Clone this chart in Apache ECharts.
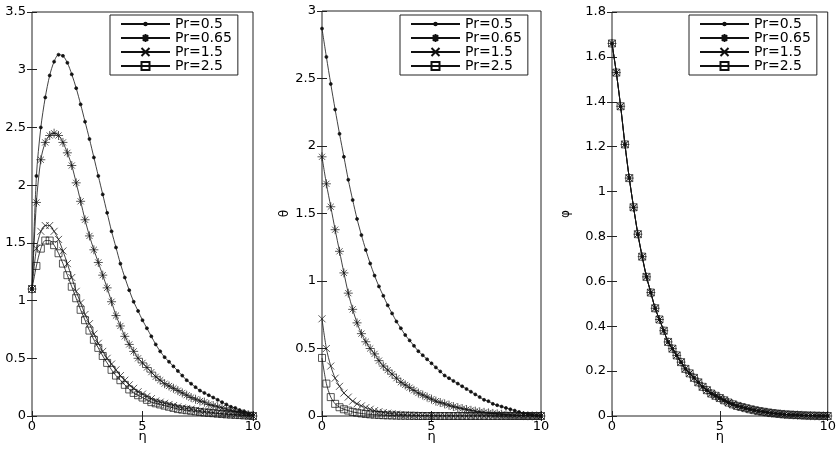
<!DOCTYPE html>
<html>
<head>
<meta charset="utf-8">
<script src="https://cdn.jsdelivr.net/npm/echarts@6/dist/echarts.min.js"></script>
<style>
  html, body { margin: 0; padding: 0; background: #fff; }
  #main { width: 839px; height: 458px; }
</style>
</head>
<body>
<div id="main"></div>
<script>
// eta values (x axis of all three panels)
var eta = [0, 0.2, 0.4, 0.6, 0.8, 1, 1.2, 1.4, 1.6, 1.8, 2, 2.2, 2.4, 2.6, 2.8, 3, 3.2, 3.4, 3.6, 3.8,
  4, 4.2, 4.4, 4.6, 4.8, 5, 5.2, 5.4, 5.6, 5.8, 6, 6.2, 6.4, 6.6, 6.8, 7, 7.2, 7.4, 7.6, 7.8,
  8, 8.2, 8.4, 8.6, 8.8, 9, 9.2, 9.4, 9.6, 9.8, 10];

var names = ['Pr=0.5', 'Pr=0.65', 'Pr=1.5', 'Pr=2.5'];

// left panel
var velPr05 = [1.10, 2.08, 2.50, 2.76, 2.95, 3.07, 3.13, 3.12, 3.06, 2.96, 2.84, 2.70, 2.55, 2.40, 2.24, 2.08, 1.92, 1.76, 1.60, 1.46,
  1.32, 1.20, 1.09, 0.99, 0.91, 0.83, 0.76, 0.69, 0.62, 0.56, 0.51, 0.47, 0.43, 0.39, 0.35, 0.31, 0.28, 0.25, 0.22, 0.20,
  0.18, 0.16, 0.14, 0.12, 0.10, 0.08, 0.07, 0.05, 0.04, 0.02, 0.01];
var velPr065 = [1.10, 1.85, 2.22, 2.37, 2.43, 2.45, 2.43, 2.37, 2.28, 2.17, 2.02, 1.86, 1.70, 1.56, 1.44, 1.33, 1.22, 1.11, 0.99, 0.87,
  0.78, 0.69, 0.62, 0.56, 0.50, 0.46, 0.42, 0.38, 0.34, 0.31, 0.28, 0.26, 0.24, 0.22, 0.20, 0.18, 0.16, 0.145, 0.13, 0.12,
  0.10, 0.09, 0.08, 0.07, 0.06, 0.05, 0.04, 0.03, 0.02, 0.01, 0.00];
var velPr15 = [1.10, 1.45, 1.60, 1.65, 1.65, 1.60, 1.53, 1.43, 1.32, 1.20, 1.08, 0.98, 0.88, 0.80, 0.71, 0.63, 0.56, 0.50, 0.45, 0.40,
  0.35, 0.31, 0.27, 0.24, 0.21, 0.19, 0.17, 0.15, 0.13, 0.12, 0.11, 0.10, 0.09, 0.08, 0.07, 0.065, 0.06, 0.05, 0.045, 0.04,
  0.035, 0.03, 0.025, 0.02, 0.018, 0.015, 0.012, 0.01, 0.007, 0.004, 0.0];
var velPr25 = [1.10, 1.30, 1.45, 1.52, 1.52, 1.48, 1.41, 1.32, 1.22, 1.12, 1.02, 0.92, 0.83, 0.74, 0.66, 0.59, 0.52, 0.46, 0.40, 0.35,
  0.31, 0.27, 0.23, 0.20, 0.18, 0.16, 0.14, 0.12, 0.11, 0.10, 0.09, 0.08, 0.07, 0.06, 0.055, 0.05, 0.045, 0.04, 0.035, 0.03,
  0.027, 0.024, 0.02, 0.017, 0.014, 0.012, 0.01, 0.008, 0.005, 0.003, 0.0];

// middle panel (theta)
var thetaPr05 = [2.87, 2.66, 2.46, 2.27, 2.09, 1.92, 1.75, 1.60, 1.46, 1.34, 1.23, 1.13, 1.04, 0.96, 0.89, 0.82, 0.76, 0.70, 0.65, 0.60,
  0.56, 0.52, 0.48, 0.45, 0.42, 0.39, 0.36, 0.33, 0.30, 0.28, 0.26, 0.24, 0.22, 0.20, 0.18, 0.16, 0.14, 0.12, 0.11, 0.09,
  0.08, 0.07, 0.06, 0.05, 0.04, 0.03, 0.02, 0.015, 0.01, 0.005, 0.0];
var thetaPr065 = [1.92, 1.72, 1.55, 1.38, 1.22, 1.06, 0.91, 0.79, 0.69, 0.61, 0.55, 0.50, 0.46, 0.41, 0.37, 0.34, 0.31, 0.28, 0.25, 0.23,
  0.21, 0.19, 0.17, 0.155, 0.14, 0.125, 0.11, 0.10, 0.09, 0.08, 0.07, 0.062, 0.055, 0.048, 0.042, 0.036, 0.031, 0.027, 0.023, 0.019,
  0.016, 0.013, 0.01, 0.008, 0.006, 0.004, 0.003, 0.002, 0.001, 0.0, 0.0];
var thetaPr15 = [0.72, 0.50, 0.37, 0.28, 0.22, 0.17, 0.14, 0.11, 0.09, 0.075, 0.062, 0.05, 0.04, 0.032, 0.026, 0.021, 0.017, 0.014, 0.011, 0.009,
  0.007, 0.006, 0.005, 0.004, 0.003, 0.002, 0.002, 0.001, 0.001, 0.001, 0, 0, 0, 0, 0, 0, 0, 0, 0, 0,
  0, 0, 0, 0, 0, 0, 0, 0, 0, 0, 0];
var thetaPr25 = [0.43, 0.24, 0.14, 0.09, 0.065, 0.05, 0.04, 0.03, 0.024, 0.019, 0.015, 0.012, 0.01, 0.008, 0.006, 0.005, 0.004, 0.003, 0.002, 0.002,
  0.001, 0.001, 0, 0, 0, 0, 0, 0, 0, 0, 0, 0, 0, 0, 0, 0, 0, 0, 0, 0,
  0, 0, 0, 0, 0, 0, 0, 0, 0, 0, 0];

// right panel (phi) - the four curves lie on top of each other
var phiAll = [1.66, 1.53, 1.38, 1.21, 1.06, 0.93, 0.81, 0.71, 0.62, 0.55, 0.48, 0.43, 0.38, 0.33, 0.30, 0.27, 0.24, 0.21, 0.19, 0.17,
  0.15, 0.13, 0.115, 0.10, 0.09, 0.08, 0.07, 0.06, 0.052, 0.045, 0.04, 0.035, 0.03, 0.026, 0.022, 0.019, 0.016, 0.013, 0.011, 0.009,
  0.007, 0.006, 0.005, 0.004, 0.003, 0.002, 0.0015, 0.001, 0.0005, 0.0002, 0.0];

var yMax = [3.5, 3, 1.8];
var yStep = [0.5, 0.5, 0.2];
var yNames = ['', 'θ', 'φ'];
var panelData = [
  [velPr05, velPr065, velPr15, velPr25],
  [thetaPr05, thetaPr065, thetaPr15, thetaPr25],
  [phiAll, phiAll, phiAll, phiAll]
];

var font = 'DejaVu Sans';
var ink = '#111';

// marker for each Pr value (the dot sits in a 10x10 box so it stays small in the legend too)
var markers = [
  { symbol: 'path://M0 0L0 0M10 10L10 10M6.5 5A1.5 1.5 0 1 1 3.5 5A1.5 1.5 0 1 1 6.5 5Z', size: 10, fill: ink },
  { symbol: 'path://M5 0L5 10M0 5L10 5M1.6 1.6L8.4 8.4M8.4 1.6L1.6 8.4', size: 9, fill: 'none' },
  { symbol: 'path://M0 0L10 10M10 0L0 10', size: 7, fill: 'none' },
  { symbol: 'path://M0 0L10 0L10 10L0 10Z', size: 7, fill: 'none' }
];

var grids = [
  { left: 32, top: 12, width: 221, height: 404 },
  { left: 322, top: 11, width: 219, height: 405 },
  { left: 612, top: 12, width: 219, height: 404 }
];
var legendLeft = [110, 400, 689];

var xAxes = [], yAxes = [], series = [], legends = [];

grids.forEach(function (g, p) {
  g.show = true;
  g.borderColor = '#222';
  g.borderWidth = 1;

  var tick = { inside: true, length: 5, lineStyle: { color: '#222' } };
  xAxes.push({
    gridIndex: p, type: 'value', min: 0, max: 10, interval: 5, position: 'bottom',
    name: 'η', nameLocation: 'middle', nameGap: 14, nameMoveOverlap: false,
    nameTextStyle: { fontFamily: font, fontSize: 13, color: '#000' },
    axisLine: { show: false }, axisTick: tick, splitLine: { show: false },
    axisLabel: { margin: 4, fontFamily: font, fontSize: 13, color: '#000' }
  });
  xAxes.push({
    gridIndex: p, type: 'value', min: 0, max: 10, interval: 5, position: 'top',
    axisLine: { show: false }, axisTick: tick, splitLine: { show: false },
    axisLabel: { show: false }
  });
  yAxes.push({
    gridIndex: p, type: 'value', min: 0, max: yMax[p], interval: yStep[p], position: 'left',
    name: yNames[p], nameLocation: 'middle', nameRotate: 90, nameGap: p === 1 ? 31 : 40,
    nameMoveOverlap: false,
    nameTextStyle: { fontFamily: font, fontSize: 12, color: '#000' },
    axisLine: { show: false }, axisTick: tick, splitLine: { show: false },
    axisLabel: { margin: 6, fontFamily: font, fontSize: 13, color: '#000' }
  });
  yAxes.push({
    gridIndex: p, type: 'value', min: 0, max: yMax[p], interval: yStep[p], position: 'right',
    axisLine: { show: false }, axisTick: tick, splitLine: { show: false },
    axisLabel: { show: false }
  });

  panelData[p].forEach(function (arr, k) {
    var m = markers[k];
    series.push({
      type: 'line',
      name: names[k],
      xAxisIndex: 2 * p,
      yAxisIndex: 2 * p,
      data: eta.map(function (x, i) { return [x, arr[i]]; }),
      smooth: 0.3,
      showAllSymbol: true,
      symbol: m.symbol,
      symbolSize: m.size,
      lineStyle: { color: ink, width: 0.8 },
      itemStyle: { color: m.fill, borderColor: ink, borderWidth: 0.7 },
      emphasis: { disabled: true },
      animation: false
    });
  });

  legends.push({
    left: legendLeft[p], top: 15,
    orient: 'vertical',
    data: names,
    itemWidth: 49, itemHeight: 10, itemGap: 0,
    padding: [2, 6, 2, 10],
    borderColor: '#222', borderWidth: 1,
    backgroundColor: '#fff',
    selectedMode: false,
    textStyle: { fontFamily: font, fontSize: 14, lineHeight: 13, color: '#000' }
  });
});

var chart = echarts.init(document.getElementById('main'));
chart.setOption({
  animation: false,
  color: [ink],
  grid: grids,
  xAxis: xAxes,
  yAxis: yAxes,
  legend: legends,
  series: series
});
</script>
</body>
</html>
